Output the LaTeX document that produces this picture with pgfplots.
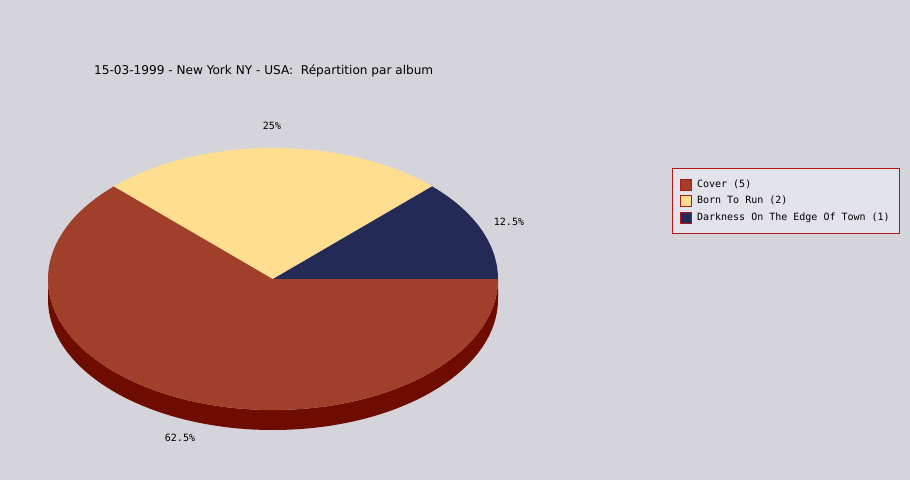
\documentclass[border=0pt]{standalone}
\usepackage{fontspec}
\setmainfont{DejaVu Sans}
\newfontfamily\mono{DejaVu Sans Mono}
\usepackage{pgfplots}
\pgfplotsset{compat=1.18}

\definecolor{bg}{HTML}{D5D4DA}
\definecolor{cover}{HTML}{A0402A}
\definecolor{coverside}{HTML}{6E0C00}
\definecolor{born}{HTML}{FFDE90}
\definecolor{dark}{HTML}{222A55}
\definecolor{legbg}{HTML}{E3E3EB}
\definecolor{legred}{HTML}{B01818}

% album counts
\def\vCover{5}
\def\vBorn{2}
\def\vDark{1}
\pgfmathsetmacro\total{\vCover+\vBorn+\vDark}
\pgfmathsetmacro\aA{-360*\vCover/\total}
\pgfmathsetmacro\aB{\aA-360*\vBorn/\total}
\pgfmathsetmacro\aC{\aB-360*\vDark/\total}

\begin{document}
\begin{tikzpicture}
\begin{axis}[
  width=910bp, height=480bp, scale only axis,
  xmin=0, xmax=910, ymin=0, ymax=480, y dir=reverse,
  hide axis, clip=false,
  legend cell align=left,
  legend image code/.code={\draw[#1] (0bp,-5.5bp) rectangle (11bp,5.5bp);},
  legend style={at={(axis cs:672,168)}, anchor=north west,
    draw=legred, fill=legbg, font=\mono\fontsize{10bp}{12bp}\selectfont,
    inner xsep=7.5bp, inner ysep=9.5bp, row sep=3.5bp,
    text depth=0pt,
    /tikz/every odd column/.append style={column sep=4bp}},
]
\fill[bg] (axis cs:0,0) rectangle (axis cs:910,480);
\node[anchor=base west, font=\fontsize{12.1bp}{14bp}\selectfont, inner sep=0pt]
  at (axis cs:94,75) {15-03-1999 - New York NY - USA:\ \ Répartition par album};

% side of the pie
\fill[coverside] (axis cs:48,279) arc[start angle=180, end angle=360, x radius=225bp, y radius=131bp]
  -- ++(0,-20bp) arc[start angle=360, end angle=180, x radius=225bp, y radius=131bp] -- cycle;
% slices, clockwise from 3 o'clock
\fill[cover] (axis cs:273,279) -- ++(0:225bp and 131bp)
  arc[start angle=0, end angle=\aA, x radius=225bp, y radius=131bp] -- cycle;
\fill[born] (axis cs:273,279) -- ++(\aA:225bp and 131bp)
  arc[start angle=\aA, end angle=\aB, x radius=225bp, y radius=131bp] -- cycle;
\fill[dark] (axis cs:273,279) -- ++(\aB:225bp and 131bp)
  arc[start angle=\aB, end angle=\aC, x radius=225bp, y radius=131bp] -- cycle;

\node[font=\mono\fontsize{10bp}{12bp}\selectfont] at (axis cs:272,126) {25\%};
\node[font=\mono\fontsize{10bp}{12bp}\selectfont] at (axis cs:509,222) {12.5\%};
\node[font=\mono\fontsize{10bp}{12bp}\selectfont] at (axis cs:180,438) {62.5\%};

\addlegendimage{fill=cover, draw=legred}
\addlegendentry{Cover (5)}
\addlegendimage{fill=born, draw=legred}
\addlegendentry{Born To Run (2)}
\addlegendimage{fill=dark, draw=legred}
\addlegendentry{Darkness On The Edge Of Town (1)}
\end{axis}
\end{tikzpicture}
\end{document}
